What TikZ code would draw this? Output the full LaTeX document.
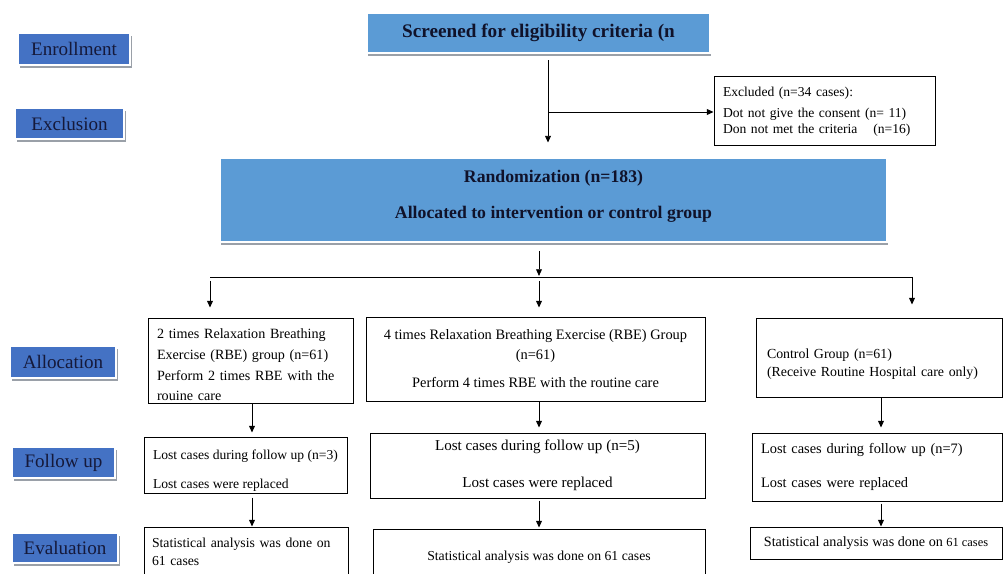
\documentclass[tikz,border=0pt]{standalone}
\usepackage{fontspec}
\setmainfont{Liberation Serif}
\usetikzlibrary{arrows.meta,shadows}
\definecolor{lblue}{HTML}{4472C4}
\definecolor{hblue}{HTML}{5B9BD5}
\definecolor{navy}{HTML}{15193A}
\definecolor{hdrtxt}{HTML}{10122A}
\definecolor{shgray}{HTML}{9AA0A8}
\tikzset{
  sz/.style 2 args={minimum width=#1, minimum height=#2, inner sep=0pt},
  lbl/.style={fill=lblue, draw=white, line width=1.2pt, text=navy,
    drop shadow={shadow xshift=1.3pt, shadow yshift=-2pt, fill=shgray, opacity=1},
    font=\fontsize{14.3}{17}\selectfont},
  hdr/.style={fill=hblue, draw=white, line width=1.2pt, text=hdrtxt,
    drop shadow={shadow xshift=0.6pt, shadow yshift=-2.4pt, fill=shgray, opacity=1},
    font=\bfseries\fontsize{14.4}{17}\selectfont},
  box/.style={draw=black, line width=0.75pt, fill=white, inner sep=0pt},
  arr/.style={-{Triangle[length=5pt,width=4.4pt]}, line width=0.6pt},
  plain/.style={line width=0.6pt},
}
\begin{document}
\begin{tikzpicture}[x=0.75pt,y=-0.75pt]
\useasboundingbox (0,0) rectangle (1004,574);
\clip (0,0) rectangle (1004,574);

% stage labels
\node[lbl, sz={84pt}{24pt}] (enroll) at (74,49) {Enrollment};
\node[lbl, sz={81.75pt}{23.25pt}] (exclL) at (69.5,123.5) {Exclusion};
\node[lbl, sz={79.5pt}{24pt}] (alloc) at (63,362) {Allocation};
\node[lbl, sz={77.25pt}{23.25pt}] (follow) at (63.5,462.5) {Follow up};
\node[lbl, sz={79.5pt}{22.5pt}] (evalL) at (65,548) {Evaluation};

% header boxes
\node[hdr, sz={257.25pt}{30pt}] (screen) at (538.5,33) {Screened for eligibility criteria (n};
\node[hdr, sz={500.25pt}{63pt}] (rand) at (553.5,200) {};
\node[font=\bfseries\fontsize{13.3}{27}\selectfont, text=hdrtxt, align=center, inner sep=0pt] (randtxt) at (553.5,196)
  {Randomization (n=183)\\Allocated to intervention or control group};

% excluded
\node[box, align=left, text width=152.25pt, inner xsep=6.75pt, minimum height=51.75pt,
  font=\fontsize{10.2}{12}\selectfont] (excl) at (824.5,111.5)
  {Excluded (n=34 cases):\\[4pt]Dot not give the consent (n= 11)\\Don not met the criteria\hspace{8.5pt} (n=16)};

% allocation row
\node[box, align=left, text width=140.25pt, inner xsep=6.75pt, minimum height=63.75pt,
  font=\fontsize{10.6}{15.4}\selectfont] (A1) at (250.5,360.5)
  {\rule{0pt}{14pt}2 times Relaxation Breathing\\Exercise (RBE) group (n=61)\\Perform 2 times RBE with the\\rouine care};
\node[box, align=center, minimum width=254.25pt, minimum height=63pt,
  font=\fontsize{10.8}{15}\selectfont] (B1) at (535.5,359)
  {4 times Relaxation Breathing Exercise (RBE) Group\\(n=61)\\[6pt]Perform 4 times RBE with the routine care};
\node[box, align=left, text width=168pt, inner xsep=8.25pt, minimum height=59.25pt,
  font=\fontsize{10.4}{13.5}\selectfont] (C1) at (879,357.5)
  {\rule{0pt}{17.5pt}Control Group (n=61)\\(Receive Routine Hospital care only)};

% follow up row
\node[box, align=left, minimum width=152.25pt, minimum height=42pt,
  font=\fontsize{10.2}{21.75}\selectfont] (A2) at (245.5,465)
  {\rule{0pt}{16pt}Lost cases during follow up (n=3)\\Lost cases were replaced};
\node[box, align=center, minimum width=251.25pt, minimum height=48.75pt,
  font=\fontsize{11.3}{27.75}\selectfont] (B2) at (537.5,465.5)
  {Lost cases during follow up (n=5)\\Lost cases were replaced};
\node[box, align=left, text width=174pt, inner xsep=6.75pt, minimum height=51pt,
  font=\fontsize{10.8}{26}\selectfont] (C2) at (877,467)
  {Lost cases during follow up (n=7)\\Lost cases were replaced};

% evaluation row
\node[box, align=left, text width=141pt, inner xsep=6pt, minimum height=37.5pt,
  font=\fontsize{10.3}{13.5}\selectfont] (A3) at (246,552)
  {Statistical analysis was done on\\61 cases};
\node[box, minimum width=249pt, minimum height=42pt,
  font=\fontsize{10.3}{13}\selectfont] (B3) at (539,557)
  {Statistical analysis was done on 61 cases};
\node[box, minimum width=189pt, minimum height=24pt,
  font=\fontsize{10.6}{13}\selectfont] (C3) at (876,543)
  {Statistical analysis was done on {\fontsize{9.3}{11}\selectfont 61 cases}};

% connectors
\coordinate (sx) at (548,112);
\draw[arr, shorten <=5pt, shorten >=11pt] (screen.south -| sx) -- (rand.north -| sx);
\draw[arr] (sx) -- (excl.west |- sx);

\coordinate (sp) at (539,277);
\coordinate (jl) at (210,277);
\coordinate (jr) at (912,277);
\draw[arr, shorten <=6pt, shorten >=0.8pt] (rand.south -| sp) -- (sp);
\draw[plain] (jl) -- (jr);
\draw[arr, shorten <=3pt, shorten >=7.5pt] (jl) -- (A1.north -| jl);
\draw[arr, shorten <=3pt, shorten >=6.75pt] (sp) -- (B1.north -| sp);
\draw[arr, shorten >=9.75pt] (jr) -- (C1.north -| jr);

\coordinate (xa) at (252,0);
\coordinate (xb) at (539,0);
\coordinate (xc) at (881,0);
\draw[arr, shorten >=3pt] (A1.south -| xa) -- (A2.north -| xa);
\draw[arr, shorten <=3pt] (A2.south -| xa) -- (A3.north -| xa);
\draw[arr, shorten >=3.75pt] (B1.south -| xb) -- (B2.north -| xb);
\draw[arr, shorten <=1.5pt, shorten >=0.75pt] (B2.south -| xb) -- (B3.north -| xb);
\draw[arr, shorten >=3.75pt] (C1.south -| xc) -- (C2.north -| xc);
\draw[arr, shorten <=1.5pt] (C2.south -| xc) -- (C3.north -| xc);
\end{tikzpicture}
\end{document}
